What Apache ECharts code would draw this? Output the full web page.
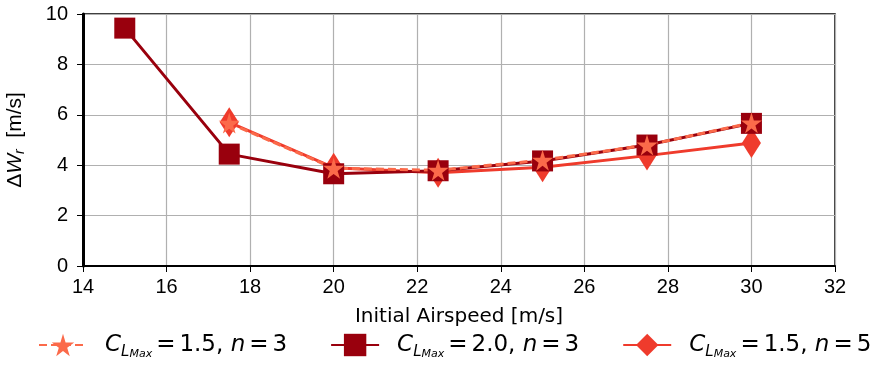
<!DOCTYPE html>
<html>
<head>
<meta charset="utf-8">
<script src="https://cdn.jsdelivr.net/npm/echarts@6/dist/echarts.min.js"></script>
<style>
  html, body { margin: 0; padding: 0; background: #fff; }
  #chart { width: 878px; height: 367px; }
</style>
</head>
<body>
<div id="chart"></div>
<script>
// airspeed [m/s]
const speeds = [15, 17.5, 20, 22.5, 25, 27.5, 30];
// delta W_r [m/s]; null = no point
const cl15n3 = [null, 5.67, 3.88, 3.8, 4.2, 4.8, 5.68];
const cl20n3 = [9.44, 4.44, 3.66, 3.78, 4.17, 4.8, 5.66];
const cl15n5 = [null, 5.7, 3.9, 3.7, 3.92, 4.38, 4.88];
const xTicks = [14, 16, 18, 20, 22, 24, 26, 28, 30, 32];
const yTicks = [0, 2, 4, 6, 8, 10];

const starPath = 'path://M50,0 L61,35 L98,35 L68,57 L79,91 L50,70 L21,91 L32,57 L2,35 L39,35 Z';

function pts(vals) {
  let out = [];
  vals.forEach((v, i) => { if (v != null) out.push([speeds[i], v]); });
  return out;
}

const names = {
  s1: '{sp|}{c|C}{s|L}{ss|Max}{eq|=}{t|1.5, }{n|n}{eq|=}{t|3}',
  s2: '{sp|}{c|C}{s|L}{ss|Max}{eq|=}{t|2.0, }{n|n}{eq|=}{t|3}',
  s3: '{sp|}{c|C}{s|L}{ss|Max}{eq|=}{t|1.5, }{n|n}{eq|=}{t|5}'
};

const font = 'DejaVu Sans';
const sans = 'Liberation Sans';
let chart = echarts.init(document.getElementById('chart'));
chart.setOption({
  animation: false,
  grid: {
    left: 83, right: 43, top: 14, bottom: 101,
    outerBoundsMode: 'none',
    show: true, borderColor: '#000', borderWidth: 1.5
  },
  legend: {
    data: ['s1', 's2', 's3'],
    bottom: 2,
    left: 33,
    itemWidth: 48,
    itemHeight: 28,
    itemGap: 43,
    formatter: n => names[n],
    textStyle: {
      fontFamily: font, color: '#000',
      rich: {
        sp: { width: 13 },
        c: { fontSize: 23, fontStyle: 'italic', fontFamily: font, lineHeight: 30, verticalAlign: 'middle' },
        s: { fontSize: 15, fontStyle: 'italic', fontFamily: font, verticalAlign: 'bottom', lineHeight: 30, padding: [14, 0, 0, 0] },
        ss: { fontSize: 11, fontStyle: 'italic', fontFamily: font, verticalAlign: 'bottom', lineHeight: 30, padding: [19, 0, 0, 0] },
        eq: { fontSize: 23, fontFamily: font, lineHeight: 30, verticalAlign: 'middle', padding: [0, 4, 0, 4] },
        t: { fontSize: 23, fontFamily: font, lineHeight: 30, verticalAlign: 'middle' },
        n: { fontSize: 23, fontStyle: 'italic', fontFamily: font, lineHeight: 30, verticalAlign: 'middle' }
      }
    }
  },
  xAxis: {
    type: 'value', min: 14, max: 32, interval: 2,
    name: 'Initial Airspeed [m/s]',
    nameLocation: 'middle', nameGap: 41,
    nameTextStyle: { fontFamily: font, fontSize: 20, color: '#000' },
    axisLine: { show: true, lineStyle: { color: '#000', width: 2 } },
    axisTick: { show: true, length: 6, lineStyle: { color: '#000' } },
    axisLabel: { fontFamily: sans, fontSize: 20, color: '#000', margin: 11,
      formatter: v => xTicks.includes(v) ? String(v) : '' },
    splitLine: { show: true, lineStyle: { color: '#b0b0b0', width: 1.2 } }
  },
  yAxis: {
    type: 'value', min: 0, max: 10, interval: 2,
    name: '{u|Δ}{d|W}{r|r}{t|  [m/s]}',
    nameLocation: 'middle', nameGap: 56, nameRotate: 90,
    nameTextStyle: {
      fontFamily: sans, fontSize: 21, color: '#000',
      rich: {
        u: { fontFamily: sans, fontSize: 21, color: '#000' },
        d: { fontFamily: sans, fontSize: 21, fontStyle: 'italic', color: '#000' },
        r: { fontFamily: sans, fontSize: 14, fontStyle: 'italic', color: '#000', verticalAlign: 'bottom', padding: [9, 0, 0, 0] },
        t: { fontFamily: sans, fontSize: 21, color: '#000' }
      }
    },
    axisLine: { show: true, lineStyle: { color: '#000', width: 3 } },
    axisTick: { show: true, length: 6, lineStyle: { color: '#000' } },
    axisLabel: { fontFamily: sans, fontSize: 20, color: '#000', margin: 15,
      formatter: v => yTicks.includes(v) ? String(v) : '' },
    splitLine: { show: true, lineStyle: { color: '#b0b0b0', width: 1.2 } }
  },
  series: [
    {
      name: 's3', type: 'line', data: pts(cl15n5),
      symbol: 'diamond', symbolSize: [19, 30],
      lineStyle: { color: '#ef3b2c', width: 3 },
      itemStyle: { color: '#ef3b2c' }
    },
    {
      name: 's2', type: 'line', data: pts(cl20n3),
      symbol: 'rect', symbolSize: 21,
      lineStyle: { color: '#99000d', width: 3 },
      itemStyle: { color: '#99000d' }
    },
    {
      name: 's1', type: 'line', data: pts(cl15n3),
      symbol: starPath, symbolSize: 21,
      lineStyle: { color: '#fb6a4a', width: 3, type: [8, 4] },
      itemStyle: { color: '#fb6a4a' }
    }
  ]
});
</script>
</body>
</html>
